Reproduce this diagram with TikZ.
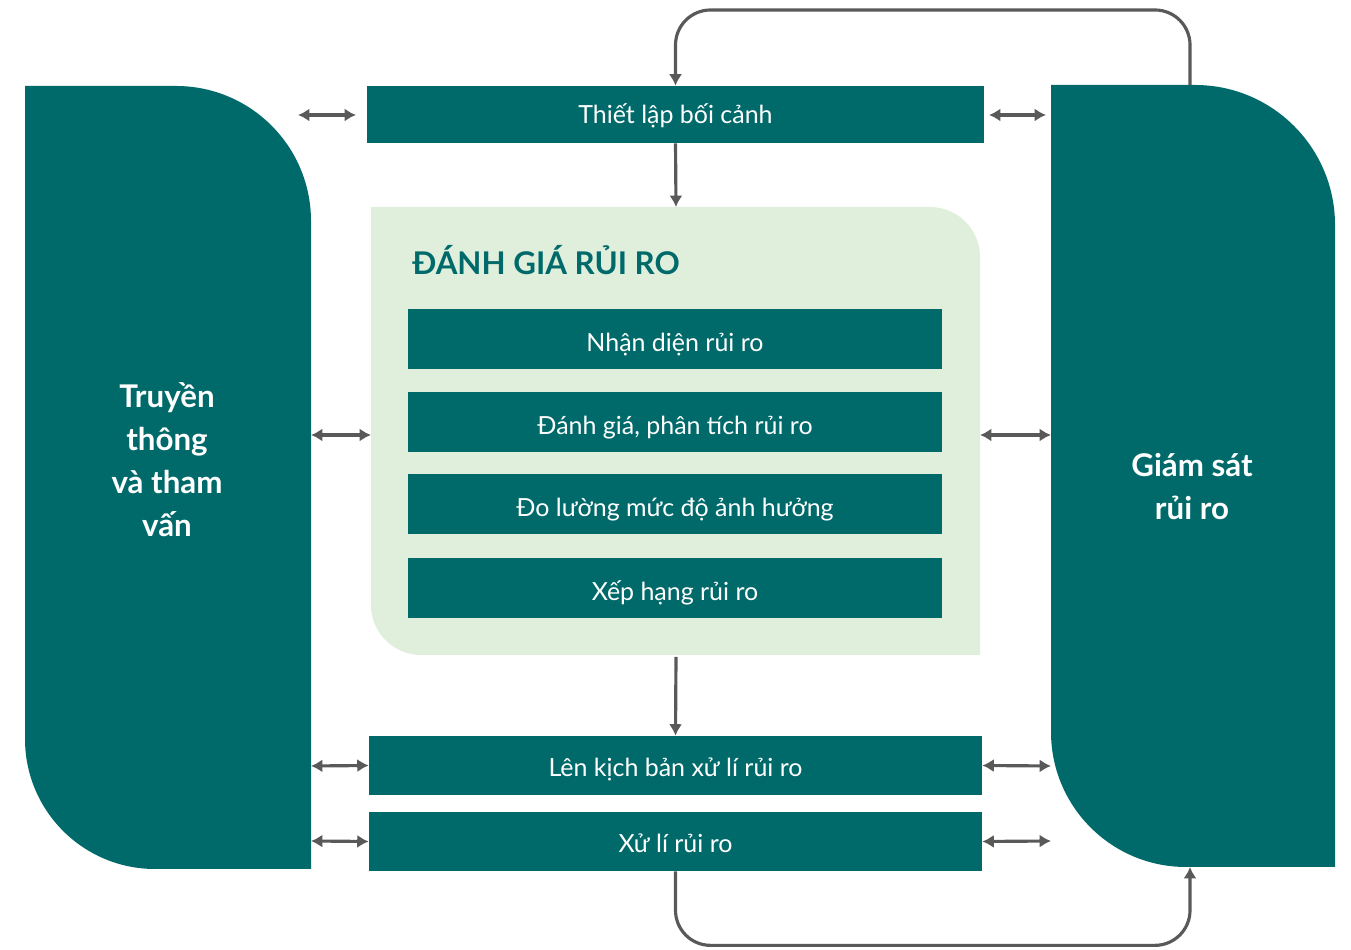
\documentclass[tikz,border=0pt]{standalone}
\usepackage{fontspec}
\setmainfont{Lato}
\usetikzlibrary{arrows.meta}
\definecolor{teal1}{HTML}{006A6B}
\definecolor{mint}{HTML}{DFEFDC}
\definecolor{arr}{HTML}{595959}
\tikzset{
  box/.style={fill=teal1,text=white,inner sep=0pt,text height=14pt,text depth=1.8pt,font=\fontsize{14.2}{17}\selectfont},
  subbox/.style={box,text height=15.5pt,minimum width=10.68cm,minimum height=1.2cm},
  link/.style={draw=arr,line width=1.8pt,{Latex[length=6.5pt,width=7.5pt]}-{Latex[length=6.5pt,width=7.5pt]}},
  flow/.style={draw=arr,line width=1.8pt,-{Latex[length=6.5pt,width=7.5pt]},rounded corners=0.7cm},
  big/.style={text=white,font=\bfseries\fontsize{17.8}{24.5}\selectfont,align=center}
}
\begin{document}
\begin{tikzpicture}
            \useasboundingbox (0,0) rectangle (27.02,19);
            \fill[teal1] (0.5,17.28) -- (3.52,17.28) arc[start angle=90,end angle=0,radius=2.7] -- (6.22,1.62) -- (3.1,1.62) arc[start angle=270,end angle=180,radius=2.6] -- cycle;
            \fill[teal1] (21.02,17.3) -- (23.9,17.3) arc[start angle=90,end angle=0,radius=2.8] -- (26.7,1.66) -- (23.72,1.66) arc[start angle=270,end angle=180,radius=2.7] -- cycle;
            \fill[mint] (7.42,14.86) -- (18.6,14.86) arc[start angle=90,end angle=0,radius=1] -- (19.6,5.9) -- (8.42,5.9) arc[start angle=270,end angle=180,radius=1] -- cycle;
            
            \node[big] (L) at (3.34,9.8) {Truyền\\thông\\và tham\\vấn};
            \node[big] (G) at (23.84,9.27) {Giám sát\\rủi ro};
            \node[anchor=west,inner sep=0pt,text=teal1,font=\bfseries\fontsize{17.8}{20}\selectfont] (T) at (8.24,13.8) {ĐÁNH GIÁ RỦI RO};
            
            \node[box,text height=12pt,minimum width=12.34cm,minimum height=1.14cm] (A) at (13.51,16.71) {Thiết lập bối cảnh};
            \node[subbox] (N) at (13.5,12.22) {Nhận diện rủi ro};
            \node[subbox] (D) at (13.5,10.56) {Đánh giá, phân tích rủi ro};
            \node[subbox] (M) at (13.5,8.91) {Đo lường mức độ ảnh hưởng};
            \node[subbox] (X) at (13.5,7.24) {Xếp hạng rủi ro};
            \node[box,minimum width=12.26cm,minimum height=1.18cm] (K) at (13.51,3.69) {Lên kịch bản xử lí rủi ro};
            \node[box,minimum width=12.26cm,minimum height=1.18cm] (R) at (13.51,2.17) {Xử lí rủi ro};
            
            \coordinate (P1) at (13.52,14.86);
            \coordinate (P2) at (13.52,5.86);
            \coordinate (S1) at (23.8,17.3);
            \coordinate (S2) at (23.8,1.66);
            \coordinate (B1) at (5.96,16.7);
            \coordinate (B2) at (7.12,16.7);
            \coordinate (C1) at (19.78,16.7);
            \coordinate (C2) at (20.92,16.7);
            \coordinate (E1) at (6.22,10.3);
            \coordinate (E2) at (7.42,10.3);
            \coordinate (F1) at (19.6,10.3);
            \coordinate (F2) at (21.02,10.3);
            \coordinate (U1) at (6.22,3.68);
            \coordinate (U2) at (21.02,3.68);
            \coordinate (V1) at (6.22,2.18);
            \coordinate (V2) at (21.02,2.18);
            
            \draw[link] (B1) -- (B2);
            \draw[link] (C1) -- (C2);
            \draw[link] (E1) -- (E2);
            \draw[link] (F1) -- (F2);
            \draw[link] (U1) -- (K.west);
            \draw[link] (K.east) -- (U2);
            \draw[link] (V1) -- (R.west);
            \draw[link] (R.east) -- (V2);
            \draw[flow] (A.south) -- (P1);
            \draw[flow] (P2) -- (K.north);
            \draw[flow] (S1) -- ++(0,1.5) -| (A.north);
            \draw[flow] (R.south) -- ++(0,-1.48) -| (S2);
          \end{tikzpicture}
\end{document}
